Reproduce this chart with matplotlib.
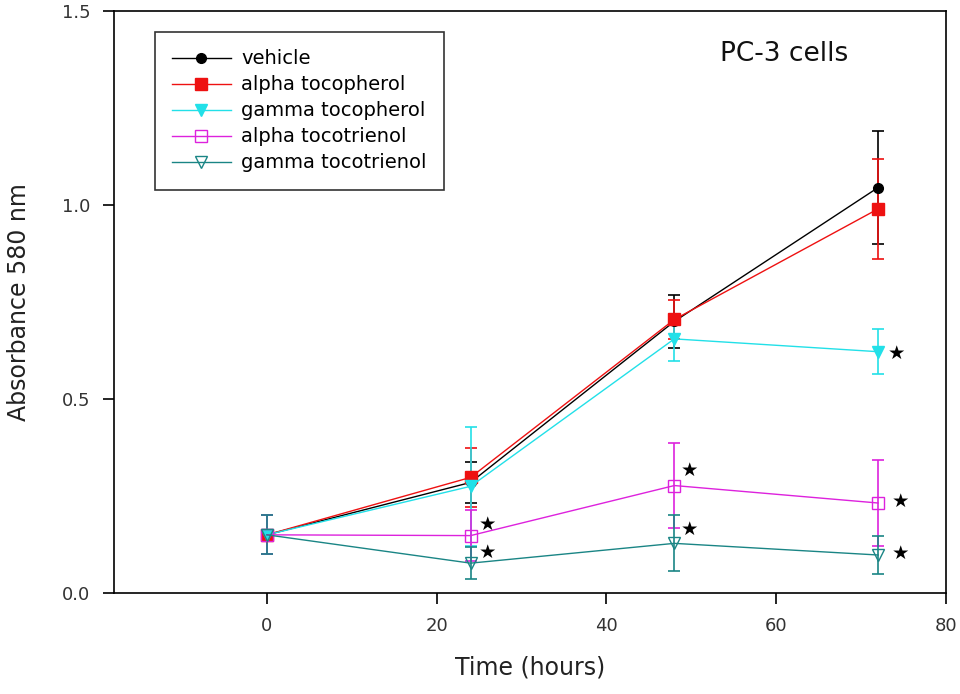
import matplotlib
matplotlib.use('Agg')
import matplotlib.pyplot as plt

plt.rcParams['font.family'] = ['DejaVu Sans']

# data
time_h = [0, 24, 48, 72]

vehicle = [0.15, 0.285, 0.70, 1.045]
vehicle_err = [0.05, 0.052, 0.068, 0.145]

alpha_toco = [0.15, 0.298, 0.705, 0.99]
alpha_toco_err = [0.05, 0.077, 0.05, 0.128]

gamma_toco = [0.15, 0.275, 0.655, 0.622]
gamma_toco_err = [0.05, 0.153, 0.057, 0.058]

alpha_tt = [0.15, 0.148, 0.277, 0.232]
alpha_tt_err = [0.05, 0.065, 0.11, 0.11]

gamma_tt = [0.15, 0.077, 0.128, 0.098]
gamma_tt_err = [0.05, 0.042, 0.072, 0.048]

series_names = ['vehicle', 'alpha tocopherol', 'gamma tocopherol',
                'alpha tocotrienol', 'gamma tocotrienol']

# significance stars: (series index, time index, dx pt, dy pt)
stars = [(3, 1, 12, 8), (4, 1, 12, 8), (3, 2, 11, 11), (4, 2, 11, 10),
         (2, 3, 13, -1), (3, 3, 16, 1), (4, 3, 16, 1)]

values = [vehicle, alpha_toco, gamma_toco, alpha_tt, gamma_tt]
errors = [vehicle_err, alpha_toco_err, gamma_toco_err, alpha_tt_err, gamma_tt_err]
styles = [
    dict(color='black', marker='o', mfc='black', ms=7),
    dict(color='#ee1111', marker='s', mfc='#ee1111', ms=8),
    dict(color='#22e0e8', marker='v', mfc='#22e0e8', ms=9),
    dict(color='#dd22dd', marker='s', mfc='none', ms=9),
    dict(color='#1a8585', marker='v', mfc='none', ms=9),
]

fig = plt.figure(figsize=(9.6, 6.94), dpi=100)
ax = fig.add_axes([0.1188, 0.1455, 0.8666, 0.8386])

handles = []
for name, y, e, st in zip(series_names, values, errors, styles):
    cont = ax.errorbar(time_h, y, yerr=e, color=st['color'], marker=st['marker'],
                       mfc=st['mfc'], mec=st['color'], ms=st['ms'], lw=1.0,
                       elinewidth=1.2, capsize=4.5, capthick=1.2, label=name)
    handles.append(cont[0])

for si, ti, dx, dy in stars:
    ax.annotate('★', xy=(time_h[ti], values[si][ti]), xytext=(dx, dy),
                textcoords='offset points', ha='center', va='center',
                fontsize=14, color='black')

ax.text(0.728, 0.915, 'PC-3 cells', transform=ax.transAxes, fontsize=19,
        color='#111111')

ax.set_xlim(-18, 80)
ax.set_ylim(0, 1.5)
ax.set_xticks([0, 20, 40, 60, 80])
ax.set_yticks([0.0, 0.5, 1.0, 1.5])
ax.set_yticklabels(['0.0', '0.5', '1.0', '1.5'])
ax.tick_params(axis='both', direction='out', length=8, width=1.2,
               labelsize=13, labelcolor='#333333', pad=9)
ax.tick_params(top=False, right=False)
for sp in ax.spines.values():
    sp.set_linewidth(1.2)

ax.set_xlabel('Time (hours)', fontsize=17, color='#222222', labelpad=15)
ax.set_ylabel('Absorbance 580 nm', fontsize=17, color='#222222', labelpad=22)

leg = ax.legend(handles, series_names, loc='upper left',
                bbox_to_anchor=(0.049, 0.964),
                prop={'size': 14},
                frameon=True, fancybox=False, handlelength=3.0,
                labelspacing=0.36, borderpad=0.9, borderaxespad=0,
                handletextpad=0.55)
leg.get_frame().set_edgecolor('black')
leg.get_frame().set_linewidth(1.2)

plt.savefig('out.png', dpi=100)
plt.close()
